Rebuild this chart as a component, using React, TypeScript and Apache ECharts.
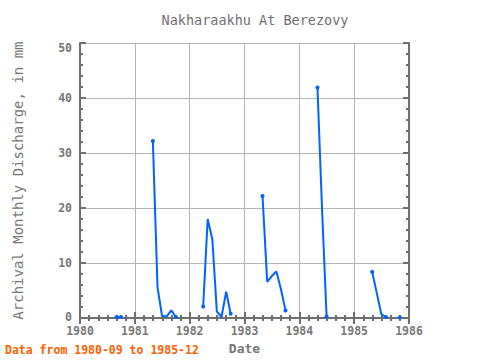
import React, { useEffect, useRef } from "react";
import * as echarts from "echarts";

const TITLE = "Nakharaakhu At Berezovy";
const Y_NAME = "Archival Monthly Discharge, in mm";
const X_NAME = "Date";
const NOTE = "Data from 1980-09 to 1985-12";

const START_YEAR = 1980;
const START_MONTH = 9;
// monthly discharge, 1980-09 .. 1985-12 (null = missing)
const values1980: (number | null)[] = [0.2, 0.2, null, null];
const values1981: (number | null)[] = [null, null, null, null, 32.2, 5.6, 0.4, 0.3, 1.4, 0.2, null, null];
const values1982: (number | null)[] = [null, null, null, 2.1, 18.0, 14.3, 1.2, 0.2, 4.8, 0.8, null, null];
const values1983: (number | null)[] = [null, null, null, null, 22.2, 6.6, 7.6, 8.5, 5.2, 1.4, null, null];
const values1984: (number | null)[] = [null, null, null, null, 41.9, 19.5, 0.3, null, null, null, null, null];
const values1985: (number | null)[] = [null, null, null, null, 8.4, 4.5, 0.7, 0.2, null, null, 0.1, null];

const X_TICKS = [1980, 1981, 1982, 1983, 1984, 1985, 1986];
const Y_TICKS = [0, 10, 20, 30, 40, 50];

function decYear(y: number, m: number) {
  const leap = (y % 4 === 0 && y % 100 !== 0) || y % 400 === 0;
  const days = leap ? 366 : 365;
  const d0 = Date.UTC(y, 0, 1);
  const d = Date.UTC(y, m - 1, 1);
  return y + (d - d0) / 86400000 / days;
}

export default function App() {
  const ref = useRef<HTMLDivElement>(null);
  useEffect(() => {
    if (!ref.current) return;
    const chart = echarts.init(ref.current, undefined, { renderer: "svg" });
    const all = [...values1980, ...values1981, ...values1982, ...values1983, ...values1984, ...values1985];
    const data: any[] = all.map((v, i) => {
      const mIdx = START_MONTH - 1 + i;
      const y = START_YEAR + Math.floor(mIdx / 12);
      const m = (mIdx % 12) + 1;
      const x = decYear(y, m);
      if (v === null) return { value: [x, null] };
      const prev = i > 0 ? all[i - 1] : null;
      const next = i < all.length - 1 ? all[i + 1] : null;
      const isEnd = prev === null || next === null;
      return { value: [x, v], symbol: isEnd ? "circle" : "none" };
    });
    const font = "'DejaVu Sans Mono', monospace";
    const axisColor = "#6e6e6e";
    const labelColor = "#777777";
    const yMin = Y_TICKS[0];
    const yMax = Y_TICKS[Y_TICKS.length - 1];
    const lblStyle = { fontFamily: font, fontSize: 11.5, fontWeight: "bold" as const, color: labelColor };
    chart.setOption({
      animation: false,
      title: {
        text: TITLE,
        left: 250,
        top: 8,
        textAlign: "center",
        textStyle: { fontFamily: font, fontSize: 13.5, fontWeight: "normal", color: "#707070" },
      },
      graphic: [
        {
          type: "text",
          left: 5,
          top: 344,
          style: { text: NOTE, fill: "#ff6000", font: `bold 11.5px ${font}` },
        },
      ],
      grid: { left: 80, right: 71, top: 43, bottom: 39 },
      xAxis: [
        {
          type: "value",
          min: X_TICKS[0],
          max: X_TICKS[X_TICKS.length - 1],
          interval: 1,
          name: X_NAME,
          nameLocation: "middle",
          nameGap: 20,
          nameTextStyle: { fontFamily: font, fontSize: 13, fontWeight: "bold", color: labelColor },
          axisLine: { lineStyle: { color: axisColor, width: 2 } },
          axisTick: { inside: true, length: 6, lineStyle: { color: axisColor, width: 2 } },
          minorTick: { show: true, splitNumber: 6, length: 3, lineStyle: { color: axisColor, width: 2 } },
          axisLabel: { ...lblStyle, margin: 7, formatter: (v: number) => String(v) },
          splitLine: { show: true, lineStyle: { color: "#b4b4b4", width: 1 } },
        },
        {
          type: "value",
          position: "top",
          min: X_TICKS[0],
          max: X_TICKS[X_TICKS.length - 1],
          interval: 1,
          axisLine: { lineStyle: { color: axisColor, width: 2 } },
          axisTick: { inside: true, length: 6, lineStyle: { color: axisColor, width: 2 } },
          minorTick: { show: true, splitNumber: 6, length: 3, lineStyle: { color: axisColor, width: 2 } },
          axisLabel: { show: false },
          splitLine: { show: false },
        },
      ],
      yAxis: [
        {
          type: "value",
          min: yMin,
          max: yMax,
          interval: 10,
          name: Y_NAME,
          nameLocation: "middle",
          nameGap: 55,
          nameTextStyle: { fontFamily: font, fontSize: 14, fontWeight: "normal", color: labelColor },
          axisLine: { lineStyle: { color: axisColor, width: 2 } },
          axisTick: { inside: true, length: 6, lineStyle: { color: axisColor, width: 2 } },
          minorTick: { show: true, splitNumber: 5, length: 3, lineStyle: { color: axisColor, width: 2 } },
          axisLabel: {
            ...lblStyle,
            margin: 8,
            formatter: (v: number) => (v === yMin ? `{lo|${v}}` : v === yMax ? `{hi|${v}}` : `${v}`),
            rich: {
              lo: { ...lblStyle, padding: [0, 0, 3, 0] },
              hi: { ...lblStyle, padding: [10, 0, 0, 0] },
            },
          },
          splitLine: { show: true, lineStyle: { color: "#b4b4b4", width: 1 } },
        },
        {
          type: "value",
          position: "right",
          min: yMin,
          max: yMax,
          interval: 10,
          axisLine: { show: true, lineStyle: { color: axisColor, width: 2 } },
          axisTick: { show: true, inside: true, length: 6, lineStyle: { color: axisColor, width: 2 } },
          minorTick: { show: true, splitNumber: 5, length: 3, lineStyle: { color: axisColor, width: 2 } },
          axisLabel: { show: false },
          splitLine: { show: false },
        },
      ],
      series: [
        {
          type: "line",
          data,
          connectNulls: false,
          showSymbol: true,
          symbolSize: 4,
          lineStyle: { color: "#0062ff", width: 2 },
          itemStyle: { color: "#0062ff" },
        },
      ],
    });
    return () => chart.dispose();
  }, []);
  return <div ref={ref} style={{ width: 480, height: 360, position: "absolute", left: 0, top: 0 }} />;
}
